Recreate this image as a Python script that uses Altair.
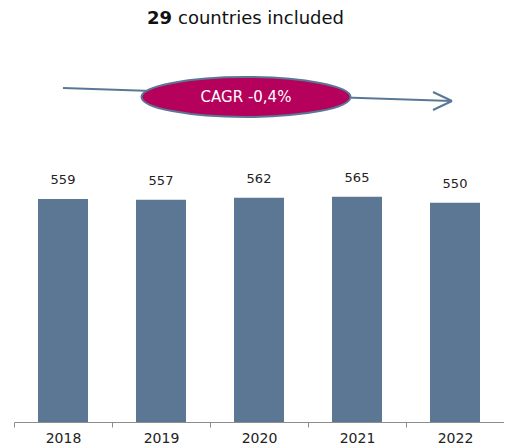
import altair as alt
import pandas as pd

years = ["2018", "2019", "2020", "2021", "2022"]
values = [559, 557, 562, 565, 550]
title_count = "29"
title_rest = "countries included"
cagr_label = "CAGR -0,4%"

df = pd.DataFrame({"year": years, "value": values})

FONT = "DejaVu Sans"
BAR = "#5C7793"
LINE = "#5A7896"
MAGENTA = "#B5005C"

x = alt.X(
    "year:N", sort=years, title=None,
    scale=alt.Scale(paddingInner=0, paddingOuter=0),
    axis=alt.Axis(labelAngle=0, tickBand="extent", domainColor="#8C8C8C",
                  tickColor="#8C8C8C", tickSize=5, labelFont=FONT,
                  labelFontSize=14, labelColor="#222222", labelPadding=4,
                  grid=False),
)
y = alt.Y("value:Q", scale=alt.Scale(domain=[0, 1013], nice=False), axis=None)

bars = alt.Chart(df).mark_bar(color=BAR, width=alt.RelativeBandSize(0.51)).encode(x=x, y=y)
labels = alt.Chart(df).mark_text(dy=-19, font=FONT, fontSize=13, color="#222222").encode(
    x=x, y=y, text="value:Q")

one = pd.DataFrame({"a": [title_count], "b": [title_rest], "c": [cagr_label]})

t1 = alt.Chart(one).mark_text(font=FONT, fontSize=18, fontWeight="bold", align="right",
                              baseline="middle", color="#111111").encode(
    x=alt.value(158), y=alt.value(1), text="a:N")
t2 = alt.Chart(one).mark_text(font=FONT, fontSize=18, align="left",
                              baseline="middle", color="#111111").encode(
    x=alt.value(164), y=alt.value(1), text="b:N")

arrow_main = alt.Chart(one).mark_rule(color=LINE, strokeWidth=2).encode(
    x=alt.value(49), y=alt.value(70), x2=alt.value(438), y2=alt.value(83))
arrow_up = alt.Chart(one).mark_rule(color=LINE, strokeWidth=2).encode(
    x=alt.value(419), y=alt.value(74), x2=alt.value(438), y2=alt.value(83))
arrow_dn = alt.Chart(one).mark_rule(color=LINE, strokeWidth=2).encode(
    x=alt.value(419), y=alt.value(92), x2=alt.value(438), y2=alt.value(83))

ellipse_path = ("M-1,0 C-1,-0.105 -0.552,-0.191 0,-0.191 C0.552,-0.191 1,-0.105 1,0 "
                "C1,0.105 0.552,0.191 0,0.191 C-0.552,0.191 -1,0.105 -1,0 Z")
ellipse = alt.Chart(one).mark_point(shape=ellipse_path, size=209 * 209, filled=True,
                                    fill=MAGENTA, fillOpacity=1, stroke=LINE,
                                    strokeWidth=2, opacity=1).encode(
    x=alt.value(232), y=alt.value(79))
cagr = alt.Chart(one).mark_text(font=FONT, fontSize=15, color="white",
                                baseline="middle").encode(
    x=alt.value(232), y=alt.value(79), text="c:N")

chart = alt.layer(bars, labels, t1, t2, arrow_main, arrow_up, arrow_dn, ellipse, cagr).properties(
    width=490, height=404,
    autosize=alt.AutoSizeParams(type="none"),
    padding={"left": 6, "top": 10, "right": 0, "bottom": 24},
).configure_view(stroke=None)

chart.save("out.html", embed_options={"renderer": "svg", "actions": False})
